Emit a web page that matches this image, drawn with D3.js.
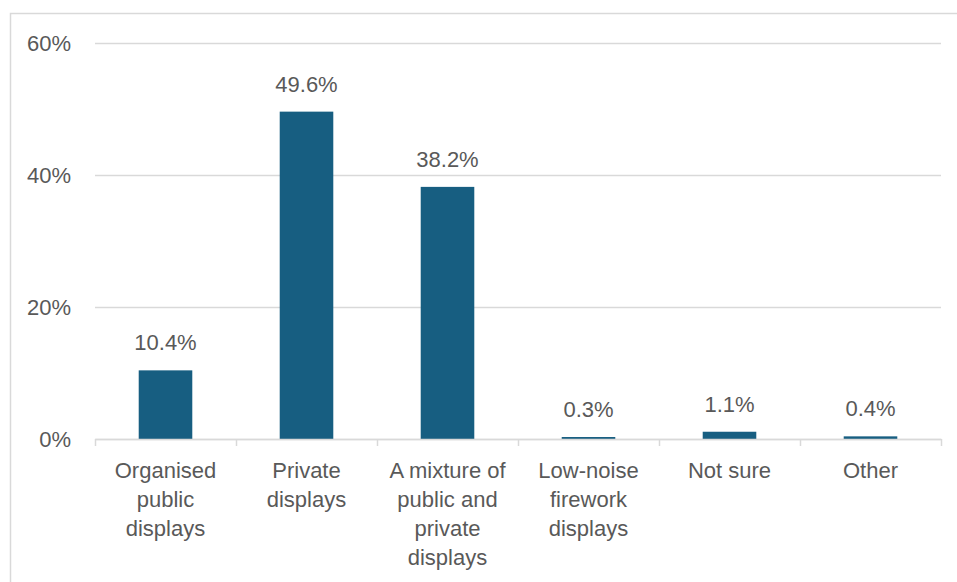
<!DOCTYPE html>
<html><head><meta charset="utf-8">
<script src="https://cdn.jsdelivr.net/npm/d3@7"></script>
<style>body{margin:0;background:#fff}svg{display:block}text{font-family:"Liberation Sans",Arial,sans-serif}</style>
</head><body>
<svg id="c" width="957" height="582"></svg>
<script>
const categories = [["Organised","public","displays"],["Private","displays"],["A mixture of","public and","private","displays"],["Low-noise","firework","displays"],["Not sure"],["Other"]];
const values = [10.4, 49.6, 38.2, 0.3, 1.1, 0.4];
const valueLabels = ["10.4%","49.6%","38.2%","0.3%","1.1%","0.4%"];
const yTicks = [0, 20, 40, 60];

const svg = d3.select("#c");
const L = 95, R = 941, T = 43, B = 439;
const textCol = "#595959", gridCol = "#d9d9d9", barCol = "#175e81";
const fs = "22px";

svg.append("path").attr("d","M10.5,582V13.5H957").attr("fill","none").attr("stroke",gridCol).attr("stroke-width",1.5);

const x = d3.scaleBand().domain(d3.range(categories.length)).range([L,R]).paddingInner(0.62).paddingOuter(0.31);
const y = d3.scaleLinear().domain([0,60]).range([B,T]);

const yAxis = svg.append("g").attr("transform",`translate(${L},0)`)
  .call(d3.axisLeft(y).tickValues(yTicks).tickFormat(d=>d+"%").tickSize(-(R-L)).tickPadding(24));
yAxis.select(".domain").remove();
yAxis.selectAll(".tick line").attr("stroke",gridCol).attr("stroke-width",1.5);
yAxis.selectAll(".tick text").attr("fill",textCol).style("font-size",fs).attr("dy","0.35em");

svg.selectAll("rect.bar").data(values).join("rect").attr("class","bar")
  .attr("x",(d,i)=>x(i)).attr("width",x.bandwidth())
  .attr("y",d=>y(d)).attr("height",d=>B-y(d)).attr("fill",barCol);

const xb = d3.scaleLinear().domain([0,categories.length]).range([L,R]);
const xa = svg.append("g").attr("transform",`translate(0,${B})`)
  .call(d3.axisBottom(xb).tickValues(d3.range(categories.length+1)).tickFormat("").tickSize(7).tickSizeOuter(0));
xa.select(".domain").attr("stroke",gridCol).attr("stroke-width",1.5);
xa.selectAll(".tick line").attr("stroke",gridCol).attr("stroke-width",1.5);

svg.selectAll("text.val").data(values).join("text").attr("class","val")
  .attr("x",(d,i)=>x(i)+x.bandwidth()/2).attr("y",d=>y(d)-20)
  .attr("text-anchor","middle").attr("fill",textCol).style("font-size",fs)
  .text((d,i)=>valueLabels[i]);

categories.forEach((lines,i)=>{
  const t = svg.append("text").attr("text-anchor","middle").attr("fill",textCol).style("font-size",fs);
  lines.forEach((ln,j)=>{
    t.append("tspan").attr("x",x(i)+x.bandwidth()/2).attr("y",478+j*29).text(ln);
  });
});
</script>
</body></html>
